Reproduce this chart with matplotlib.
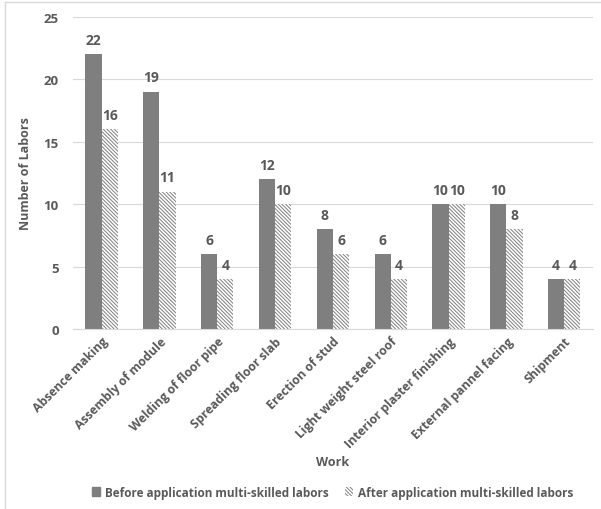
import numpy as np
import matplotlib.pyplot as plt
from matplotlib.lines import Line2D

plt.rcParams['font.family'] = ['Open Sans', 'DejaVu Sans']
plt.rcParams['hatch.linewidth'] = 0.7

works = ['Absence making', 'Assembly of module', 'Welding of floor pipe',
         'Spreading floor slab', 'Erection of stud', 'Light weight steel roof',
         'Interior plaster finishing', 'External pannel facing', 'Shipment']
before = [22, 19, 6, 12, 8, 6, 10, 10, 4]
after = [16, 11, 4, 10, 6, 4, 10, 8, 4]

txt = '#595959'
gray = '#7f7f7f'
hatch = '\\' * 9

fig = plt.figure(figsize=(6.01, 5.10), dpi=100)
ax = fig.add_axes([0.121, 0.353, 0.866, 0.612])

x = np.arange(len(works))
w = 0.28
b1 = ax.bar(x - w / 2, before, w, color=gray, edgecolor='none')
b2 = ax.bar(x + w / 2, after, w, facecolor='white', edgecolor=gray,
            linewidth=0, hatch=hatch)

for rects in (b1, b2):
    for r in rects:
        ax.text(r.get_x() + r.get_width() / 2, r.get_height() + 0.6,
                '%d' % r.get_height(), ha='center', va='bottom',
                fontsize=10, fontweight='bold', color=txt)

ax.set_ylim(0, 25)
ax.set_xlim(-0.5, len(works) - 0.5)
ax.set_yticks(range(0, 26, 5))
ax.yaxis.grid(True, color='#d9d9d9', linewidth=0.8)
ax.set_axisbelow(True)
for s in ['top', 'right', 'left']:
    ax.spines[s].set_visible(False)
ax.spines['bottom'].set_color('#d9d9d9')
ax.tick_params(axis='y', length=0, colors=txt, labelsize=9.5, pad=10)
ax.tick_params(axis='x', length=0, colors=txt, labelsize=8.8, pad=4)
ax.set_xticks(x)
ax.set_xticklabels(works, rotation=45, ha='right', rotation_mode='anchor',
                   fontweight='bold')
for lab in ax.get_yticklabels():
    lab.set_fontweight('bold')

ax.set_ylabel('Number of Labors', fontsize=9, fontweight='bold', color=txt, labelpad=8)
ax.set_xlabel('Work', fontsize=9, fontweight='bold', color=txt, labelpad=4)

handles = [plt.Rectangle((0, 0), 1, 1, color=gray),
           plt.Rectangle((0, 0), 1, 1, facecolor='white', edgecolor=gray,
                         linewidth=0, hatch=hatch)]
fig.legend(handles, ['Before application multi-skilled labors',
                     'After application multi-skilled labors'],
           loc='center', bbox_to_anchor=(0.553, 0.033), ncol=2, frameon=False,
           handlelength=0.7, handleheight=0.7, handletextpad=0.4, columnspacing=1.4,
           prop={'weight': 'bold', 'size': 8.5}, labelcolor=txt)

fig.add_artist(Line2D([0.008, 0.008], [0, 0.995], color='#d9d9d9', lw=1))
fig.add_artist(Line2D([0.008, 1], [0.995, 0.995], color='#d9d9d9', lw=1))

fig.savefig('out.png', dpi=100)
